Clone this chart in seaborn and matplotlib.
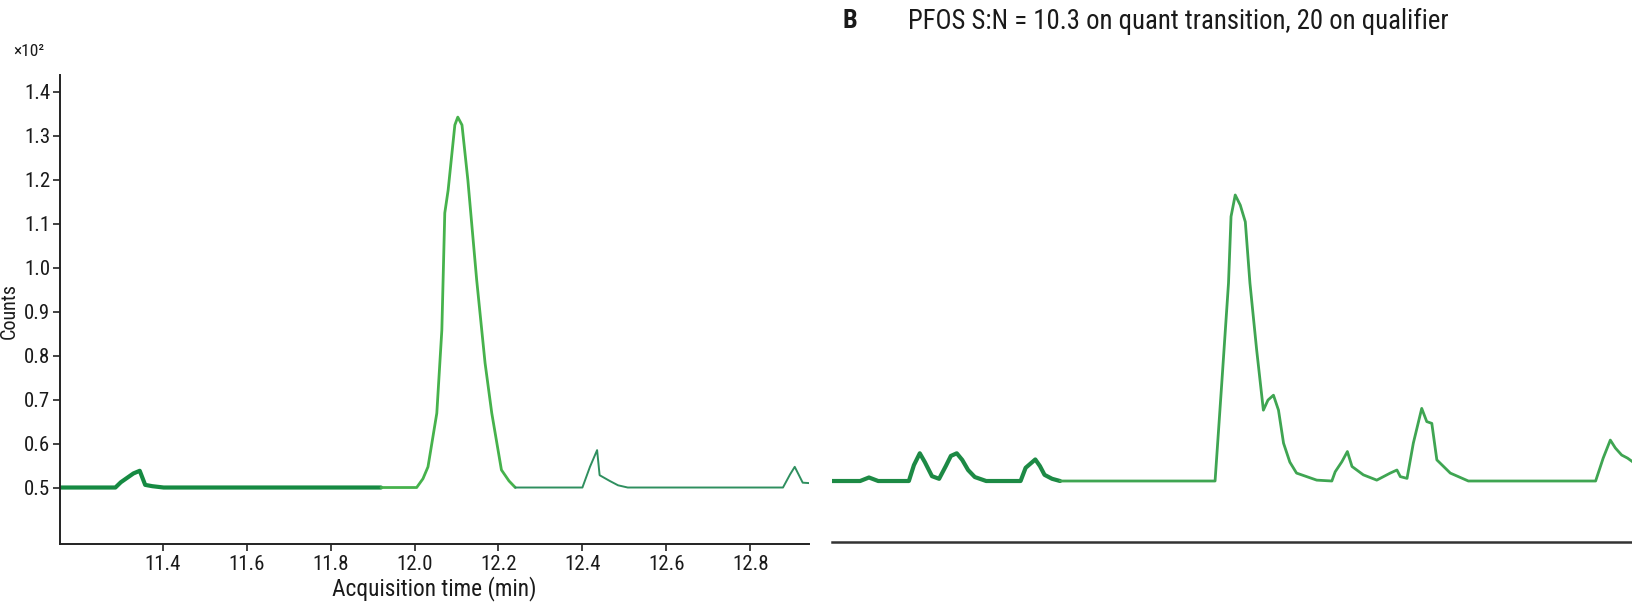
import matplotlib
matplotlib.use("Agg")
import matplotlib.pyplot as plt
from matplotlib import font_manager
import seaborn as sns
import numpy as np

# Panel A: chromatogram, acquisition time (min) vs counts (x10^2)
time_a = [11.155, 11.287, 11.300, 11.315, 11.330, 11.345, 11.358, 11.375, 11.402, 11.92,
          12.005, 12.020, 12.032, 12.053, 12.065, 12.072, 12.080, 12.096, 12.103, 12.113,
          12.127, 12.148, 12.168, 12.184, 12.207, 12.225, 12.240, 12.400, 12.418, 12.435,
          12.441, 12.465, 12.485, 12.508, 12.878, 12.895, 12.906, 12.915, 12.925, 12.941]
counts_a = [0.500, 0.500, 0.512, 0.522, 0.532, 0.538, 0.506, 0.503, 0.500, 0.500,
            0.500, 0.520, 0.547, 0.669, 0.858, 1.124, 1.176, 1.324, 1.342, 1.324,
            1.199, 0.972, 0.783, 0.669, 0.540, 0.515, 0.500, 0.500, 0.547, 0.585,
            0.528, 0.515, 0.505, 0.500, 0.500, 0.530, 0.547, 0.530, 0.511, 0.510]

# Panel B: PFOS quant transition trace
time_b = [11.155, 11.222, 11.243, 11.265, 11.338, 11.350, 11.364, 11.376, 11.393, 11.410,
          11.426, 11.438, 11.452, 11.465, 11.479, 11.495, 11.522, 11.604, 11.616, 11.639,
          11.650, 11.661, 11.679, 11.698, 12.067, 12.083, 12.099, 12.105, 12.115, 12.127,
          12.139, 12.150, 12.166, 12.182, 12.193, 12.206, 12.218, 12.230, 12.245, 12.261,
          12.309, 12.345, 12.353, 12.369, 12.382, 12.393, 12.420, 12.452, 12.484, 12.500,
          12.508, 12.524, 12.539, 12.559, 12.571, 12.583, 12.595, 12.627, 12.670, 12.973,
          12.991, 13.008, 13.020, 13.035, 13.049, 13.062]
counts_b = [0.500, 0.500, 0.508, 0.500, 0.500, 0.536, 0.563, 0.543, 0.511, 0.505,
            0.534, 0.557, 0.563, 0.548, 0.525, 0.509, 0.500, 0.500, 0.530, 0.549,
            0.534, 0.514, 0.505, 0.500, 0.500, 0.723, 0.950, 1.101, 1.150, 1.127,
            1.089, 0.950, 0.798, 0.661, 0.684, 0.695, 0.661, 0.586, 0.543, 0.518,
            0.502, 0.500, 0.521, 0.544, 0.567, 0.533, 0.514, 0.502, 0.518, 0.525,
            0.510, 0.506, 0.586, 0.665, 0.635, 0.631, 0.548, 0.518, 0.500, 0.500,
            0.552, 0.593, 0.575, 0.559, 0.552, 0.543]

x_ticks = [11.4, 11.6, 11.8, 12.0, 12.2, 12.4, 12.6, 12.8]
y_ticks = [0.5, 0.6, 0.7, 0.8, 0.9, 1.0, 1.1, 1.2, 1.3, 1.4]

title_text = "PFOS S:N = 10.3 on quant transition, 20 on qualifier"

sns.set_theme(style="white")

# prefer a condensed sans face when one is installed
installed = {f.name for f in font_manager.fontManager.ttflist}
family = "Liberation Sans"
for cand in ("Liberation Sans Narrow", "DejaVu Sans Condensed", "Roboto Condensed",
             "Open Sans Condensed", "Noto Sans Condensed"):
    if cand in installed:
        family = cand
        break
plt.rcParams["font.family"] = [family, "DejaVu Sans"]
plt.rcParams["axes.edgecolor"] = "#222222"

fig = plt.figure(figsize=(16.33, 6.05), dpi=100)
W, H = 1633, 605

def frame(x0, y0, x1, y1):
    return [x0 / W, 1 - y1 / H, (x1 - x0) / W, (y1 - y0) / H]

renderer = fig.canvas.get_renderer()

def fit_width(txt, target_px):
    w = txt.get_window_extent(renderer).width
    txt.set_fontsize(txt.get_fontsize() * target_px / w)

# ---- Panel A ----
ax = fig.add_axes(frame(60, 75, 809, 544))
ta = np.array(time_a)
ca = np.array(counts_a)
seg1 = ta <= 11.92
seg2 = (ta >= 11.92) & (ta <= 12.24)
seg3 = ta >= 12.24
sns.lineplot(x=ta[seg1], y=ca[seg1], ax=ax, color="#168a42", lw=3.0, sort=False, estimator=None)
sns.lineplot(x=ta[seg2], y=ca[seg2], ax=ax, color="#46b24c", lw=2.0, sort=False, estimator=None)
sns.lineplot(x=ta[seg3], y=ca[seg3], ax=ax, color="#2f8f5f", lw=1.4, sort=False, estimator=None)

ax.set_xlim(11.155, 12.94)
ax.set_ylim(0.3716, 1.4377)
ax.set_xticks(x_ticks)
ax.set_xticklabels([f"{v:.1f}" for v in x_ticks])
ax.set_yticks(y_ticks)
ax.set_yticklabels([f"{v:.1f}" for v in y_ticks])
ax.tick_params(axis="both", direction="out", length=5, width=1.2, color="#222222",
               labelsize=15, labelcolor="#1a1a1a", pad=2, left=True, bottom=True)
ax.tick_params(axis="x", pad=3)
for side in ("top", "right"):
    ax.spines[side].set_visible(False)
for side in ("left", "bottom"):
    ax.spines[side].set_linewidth(1.4)
ax.set_xlabel("")
ax.set_ylabel("")

xl = fig.text(434 / W, 1 - 589 / H, "Acquisition time (min)", fontsize=13.5,
              color="#1a1a1a", ha="center", va="center")
fit_width(xl, 205)
fig.text(9 / W, 1 - 311 / H, "Counts", fontsize=14.5, rotation=90,
         color="#1a1a1a", ha="center", va="center")
fig.text(13 / W, 1 - 51 / H, "×10²", fontsize=12.5, color="#1a1a1a", va="center", ha="left")

# ---- Panel B ----
bx = fig.add_axes(frame(832, 75, 1633, 541.6))
tb = np.array(time_b)
cb = np.array(counts_b)
b1 = tb <= 11.70
b2 = tb >= 11.698
sns.lineplot(x=tb[b1], y=cb[b1], ax=bx, color="#1d8a45", lw=3.0, sort=False, estimator=None)
sns.lineplot(x=tb[b2], y=cb[b2], ax=bx, color="#3fa552", lw=2.0, sort=False, estimator=None)
bx.set_xlim(11.155, 13.062)
bx.set_ylim(0.3623, 1.4227)
bx.set_xticks([])
bx.set_yticks([])
bx.set_xlabel("")
bx.set_ylabel("")
for side in ("top", "right", "left"):
    bx.spines[side].set_visible(False)
bx.spines["bottom"].set_linewidth(1.8)
bx.spines["bottom"].set_color("#333333")

fig.text(843 / W, 1 - 21 / H, "B", fontsize=19, fontweight="bold", color="#1a1a1a",
         va="center", ha="left")
tt = fig.text(908 / W, 1 - 21 / H, title_text, fontsize=15, color="#1a1a1a",
              va="center", ha="left")
fit_width(tt, 540)

fig.savefig("out.png", dpi=100, facecolor="white")
